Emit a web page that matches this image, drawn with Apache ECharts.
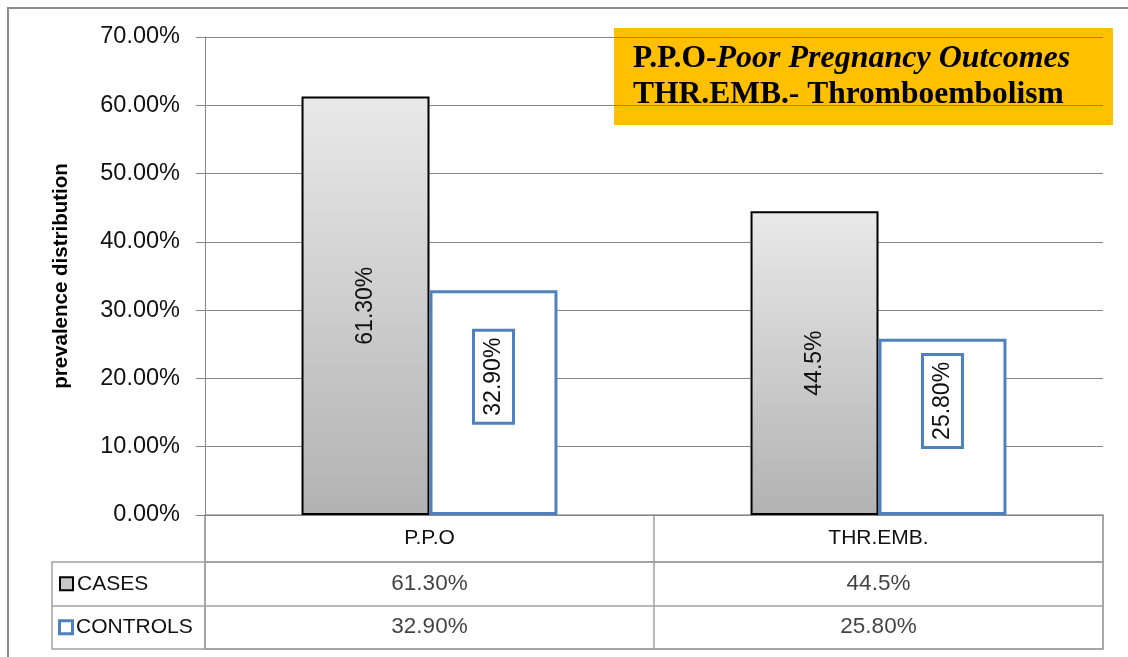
<!DOCTYPE html>
<html>
<head>
<meta charset="utf-8">
<script src="https://cdn.jsdelivr.net/npm/echarts@6/dist/echarts.min.js"></script>
<style>
  html, body { margin: 0; padding: 0; background: #fff; }
  #chart { width: 1128px; height: 657px; }
</style>
</head>
<body>
<div id="chart"></div>
<script>
// data
const categories = ["P.P.O", "THR.EMB."];
const seriesNames = ["CASES", "CONTROLS"];
const casesValues = [61.3, 44.5];
const controlsValues = [32.9, 25.8];
const casesLabels = ["61.30%", "44.5%"];
const controlsLabels = ["32.90%", "25.80%"];
const yTicks = { min: 0, max: 70, interval: 10 };

const FONT = "Liberation Sans";
const BLUE = "#4f81bd";
const LINE = "#a0a0a0";

const chart = echarts.init(document.getElementById("chart"));

// cells of the data table: [column, row, text]
const tableCells = [];
categories.forEach((c, i) => {
  tableCells.push([c, seriesNames[0], casesLabels[i]]);
  tableCells.push([c, seriesNames[1], controlsLabels[i]]);
});

const option = {
  backgroundColor: "#fff",
  animation: false,
  grid: [
    // plot area
    { left: 205, right: 25, top: 37, bottom: 142 },
    // table header row (category names)
    { left: 205, right: 25, top: 515, height: 47, show: true, borderColor: LINE, borderWidth: 1.5 },
    // table body (values)
    { left: 205, right: 25, top: 562, height: 87, show: true, borderColor: LINE, borderWidth: 1.5 },
  ],
  xAxis: [
    {
      gridIndex: 0,
      type: "category",
      data: categories,
      axisLine: { lineStyle: { color: "#868686", width: 1 } },
      axisTick: { show: false },
      axisLabel: { margin: 13, fontFamily: FONT, fontSize: 21, color: "#111" },
    },
    {
      gridIndex: 1,
      type: "category",
      data: categories,
      axisLine: { show: false },
      axisTick: { show: false },
      axisLabel: { show: false },
      splitLine: { show: true, interval: 0, lineStyle: { color: LINE, width: 1.5 } },
    },
    {
      gridIndex: 2,
      type: "category",
      data: categories,
      axisLine: { show: false },
      axisTick: { show: false },
      axisLabel: { show: false },
      splitLine: { show: true, interval: 0, lineStyle: { color: LINE, width: 1.5 } },
    },
  ],
  yAxis: [
    {
      gridIndex: 0,
      type: "value",
      min: yTicks.min,
      max: yTicks.max,
      interval: yTicks.interval,
      name: "prevalence distribution",
      nameLocation: "middle",
      nameGap: 133,
      nameTextStyle: { fontFamily: FONT, fontSize: 20.5, fontWeight: "bold", color: "#000" },
      axisLine: { show: true, lineStyle: { color: "#868686", width: 1 } },
      axisTick: { show: true, length: 9, lineStyle: { color: "#868686" } },
      axisLabel: {
        margin: 25,
        fontFamily: FONT,
        fontSize: 23.5,
        color: "#111",
        formatter: (v) => v.toFixed(2) + "%",
      },
      splitLine: { show: true, lineStyle: { color: "#868686", width: 1 } },
    },
    {
      gridIndex: 1,
      type: "value",
      show: false,
    },
    {
      gridIndex: 2,
      type: "category",
      data: seriesNames,
      inverse: true,
      axisLine: { show: false },
      axisTick: { show: true, interval: 0, length: 153, lineStyle: { color: LINE, width: 1.5 } },
      splitLine: { show: true, interval: 0, lineStyle: { color: LINE, width: 1.5 } },
      axisLabel: {
        margin: 144,
        align: "left",
        formatter: (name) => (name === seriesNames[0] ? "{kc|}" : "{kt|}") + "{t|" + name + "}",
        rich: {
          kc: { width: 11, height: 11, backgroundColor: "#c8c8c8", borderColor: "#000", borderWidth: 2 },
          kt: { width: 10, height: 10, backgroundColor: "#fff", borderColor: BLUE, borderWidth: 3 },
          t: { fontFamily: FONT, fontSize: 21, color: "#111", padding: [0, 0, 0, 5] },
        },
      },
    },
    {
      // left edge of the legend column
      gridIndex: 2,
      type: "category",
      data: seriesNames,
      position: "left",
      offset: 153,
      axisLine: { show: true, lineStyle: { color: LINE, width: 1.5 } },
      axisTick: { show: false },
      axisLabel: { show: false },
    },
  ],
  series: [
    {
      name: seriesNames[0],
      type: "bar",
      xAxisIndex: 0,
      yAxisIndex: 0,
      data: casesValues,
      barWidth: "28.5%",
      barGap: "0%",
      itemStyle: {
        color: new echarts.graphic.LinearGradient(0, 0, 0, 1, [
          { offset: 0, color: "#e9e9e9" },
          { offset: 1, color: "#b2b2b2" },
        ]),
        borderColor: "#000",
        borderWidth: 2,
      },
      label: {
        show: true,
        position: "inside",
        rotate: 90,
        fontFamily: FONT,
        fontSize: 23,
        color: "#111",
        formatter: (p) => casesLabels[p.dataIndex],
      },
    },
    {
      name: seriesNames[1],
      type: "bar",
      xAxisIndex: 0,
      yAxisIndex: 0,
      data: controlsValues,
      barWidth: "28.5%",
      itemStyle: { color: "#fff", borderColor: BLUE, borderWidth: 3 },
      label: {
        show: true,
        position: "inside",
        rotate: 90,
        offset: [26, 0],
        fontFamily: FONT,
        fontSize: 23,
        lineHeight: 23,
        color: "#111",
        backgroundColor: "#fff",
        borderColor: BLUE,
        borderWidth: 3,
        padding: [7, 6, 7, 6],
        formatter: (p) => controlsLabels[p.dataIndex],
      },
    },
    {
      // values written in the data table
      type: "scatter",
      xAxisIndex: 2,
      yAxisIndex: 2,
      symbolSize: 0,
      data: tableCells,
      label: {
        show: true,
        position: "inside",
        fontFamily: FONT,
        fontSize: 22.5,
        color: "#111",
        formatter: (p) => p.data[2],
      },
    },
  ],
  graphic: [
    {
      type: "rect",
      z: -1,
      shape: { x: 8, y: 8, width: 1200, height: 700 },
      style: { fill: "none", stroke: "#8c8c8c", lineWidth: 2 },
    },
    {
      type: "group",
      z: 100,
      children: [
        {
          type: "rect",
          shape: { x: 614, y: 28, width: 499, height: 97 },
          style: { fill: "#ffc000" },
        },
        {
          type: "text",
          x: 633,
          y: 41,
          style: {
            text: "{b|P.P.O-}{bi|Poor Pregnancy Outcomes}\n{b|THR.EMB.- Thromboembolism}",
            rich: {
              b: { fontFamily: "Liberation Serif", fontWeight: "bold", fontSize: 31.5, lineHeight: 36, fill: "#000" },
              bi: { fontFamily: "Liberation Serif", fontWeight: "bold", fontStyle: "italic", fontSize: 32, lineHeight: 36, fill: "#000" },
            },
          },
        },
      ],
    },
  ],
};

chart.setOption(option);
</script>
</body>
</html>
